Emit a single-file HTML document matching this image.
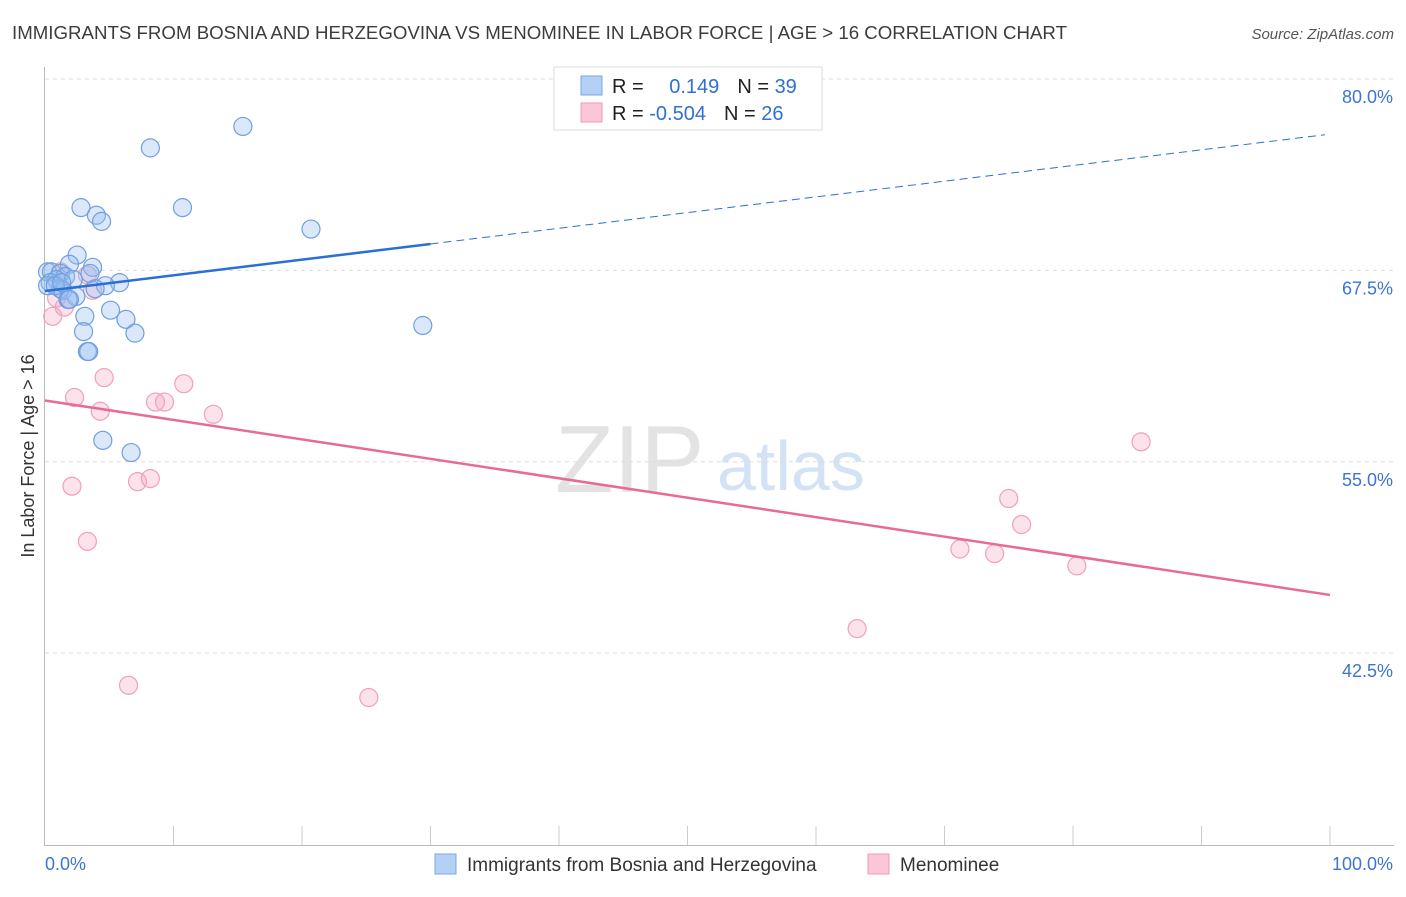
<!DOCTYPE html>
<html><head><meta charset="utf-8"><style>
body{margin:0;background:#fff;font-family:"Liberation Sans",sans-serif}
svg text{font-family:"Liberation Sans",sans-serif}
</style></head><body>
<svg id="chart" width="1406" height="892" viewBox="0 0 1406 892">
<text x="12" y="39" font-size="18" fill="#3c3c3c" textLength="1055" lengthAdjust="spacingAndGlyphs">IMMIGRANTS FROM BOSNIA AND HERZEGOVINA VS MENOMINEE IN LABOR FORCE | AGE &gt; 16 CORRELATION CHART</text>
<text x="1394" y="39" font-size="15" fill="#555" text-anchor="end" font-style="italic">Source: ZipAtlas.com</text>
<text x="555" y="492" font-size="96" fill="#ddd" font-family="Liberation Serif" opacity="0.8">ZIP</text>
<text x="717" y="490" font-size="70" fill="#c9dcf3" opacity="0.8">atlas</text>
<text transform="translate(34,456) rotate(-90)" font-size="18" fill="#333" text-anchor="middle">In Labor Force | Age &gt; 16</text>
<g id="grid"></g><g id="axes"></g><g id="marks"></g>
<g>
<rect x="554" y="67" width="268" height="63" fill="#fff" stroke="#ddd"/>
<rect x="581" y="76" width="21" height="19" fill="#b5d0f5" stroke="#7aa6e6"/>
<rect x="581" y="103" width="21" height="19" fill="#fbc7d6" stroke="#f09ab4"/>
<text x="612" y="93" font-size="20" fill="#222">R = <tspan fill="#2f6fd6" dx="20">0.149</tspan><tspan dx="18" fill="#222">N = </tspan><tspan fill="#2f6fd6">39</tspan></text>
<text x="612" y="120" font-size="20" fill="#222">R = <tspan fill="#2f6fd6">-0.504</tspan><tspan dx="18" fill="#222">N = </tspan><tspan fill="#2f6fd6">26</tspan></text>
</g>
<g>
<rect x="435" y="854" width="21" height="20" fill="#b5d0f5" stroke="#7aa6e6"/>
<text x="467" y="871" font-size="19" fill="#333">Immigrants from Bosnia and Herzegovina</text>
<rect x="868" y="854" width="21" height="20" fill="#fbc7d6" stroke="#f09ab4"/>
<text x="900" y="871" font-size="19" fill="#333">Menominee</text>
</g>
</svg>
<script>
const yTicks=[80.0,67.5,55.0,42.5];
const yTickLabels=["80.0%","67.5%","55.0%","42.5%"];
const xTickLabels=["0.0%","100.0%"];
const blueX=[15.4,8.2,10.7,2.8,4.0,4.4,20.7,2.5,1.9,3.7,0.2,0.5,1.2,1.6,3.5,0.9,2.2,5.8,4.7,0.4,1.2,1.4,2.4,1.8,5.1,3.1,6.3,3.0,7.0,29.4,3.3,3.4,4.5,6.7,0.2,0.8,1.3,1.9,3.9];
const blueY=[76.9,75.5,71.6,71.6,71.1,70.7,70.2,68.5,67.9,67.7,67.4,67.4,67.3,67.1,67.3,66.9,66.9,66.7,66.5,66.7,66.3,66.2,65.8,65.6,64.9,64.5,64.3,63.5,63.4,63.9,62.2,62.2,56.4,55.6,66.5,66.5,66.7,65.6,66.3];
const pinkX=[1.2,3.3,3.7,0.9,1.5,0.6,4.6,2.3,4.3,8.6,9.3,10.8,13.1,2.1,7.2,8.2,3.3,6.5,25.2,63.2,71.2,73.9,75.0,76.0,80.3,85.3];
const pinkY=[67.4,67.2,66.2,65.7,65.1,64.5,60.5,59.2,58.3,58.9,58.9,60.1,58.1,53.4,53.7,53.9,49.8,40.4,39.6,44.1,49.3,49.0,52.6,50.9,48.2,56.3];
const blueTrend=[66.15,76.4];
const pinkTrend=[59.0,46.3];
const NS="http://www.w3.org/2000/svg";
const X=v=>45+v*12.85;
const Y=v=>79+(80-v)*15.31;
function mk(p,t,a){const e=document.createElementNS(NS,t);for(const k in a)e.setAttribute(k,a[k]);p.appendChild(e);return e;}
const grid=document.getElementById('grid'),axes=document.getElementById('axes'),marks=document.getElementById('marks');
yTicks.forEach((t,i)=>{
 const l=mk(grid,'line',{x1:45,x2:1394,y1:Y(t),y2:Y(t),stroke:'#ddd','stroke-dasharray':'4,4'});
 
 
 const tx=mk(axes,'text',{x:1393,y:Y(t)+24,'font-size':18,fill:'#3d74d4','text-anchor':'end'});
 tx.textContent=yTickLabels[i];
 
 
});
let ax=mk(axes,'line',{x1:44.5,x2:44.5,y1:67,y2:845,stroke:'#bbb'});


ax=mk(axes,'line',{x1:44,x2:1394,y1:845.5,y2:845.5,stroke:'#bbb'});


for(let i=1;i<=10;i++){const t=mk(axes,'line',{x1:X(i*10),x2:X(i*10),y1:826,y2:845,stroke:'#ccc'});
 
 }
[0,100].forEach((v,i)=>{const t=mk(axes,'text',{x:i?1393:45,y:870,'font-size':18,fill:'#3d74d4','text-anchor':i?'end':'start'});
 t.textContent=xTickLabels[i];
 
 });
pinkX.forEach((x,i)=>{const c=mk(marks,'circle',{cx:X(x),cy:Y(pinkY[i]),r:9,fill:'rgba(246,160,188,0.3)',stroke:'#f0a0ba','stroke-width':1.2});
 
 });
blueX.forEach((x,i)=>{const c=mk(marks,'circle',{cx:X(x),cy:Y(blueY[i]),r:9,fill:'rgba(150,190,240,0.35)',stroke:'#6f9fe0','stroke-width':1.2});
 
 });
const by=x=>blueTrend[0]+(blueTrend[1]-blueTrend[0])*x/100;
let l=mk(marks,'line',{x1:X(0),y1:Y(by(0)),x2:X(30),y2:Y(by(30)),stroke:'#2a6fd6','stroke-width':2.5});


l=mk(marks,'line',{x1:X(30),y1:Y(by(30)),x2:X(99.6),y2:Y(by(99.6)),stroke:'#2a6fd6','stroke-width':1,'stroke-dasharray':'8,5'});


l=mk(marks,'line',{x1:X(0),y1:Y(pinkTrend[0]),x2:X(100),y2:Y(pinkTrend[1]),stroke:'#e86b95','stroke-width':2.5});


</script>
</body></html>
